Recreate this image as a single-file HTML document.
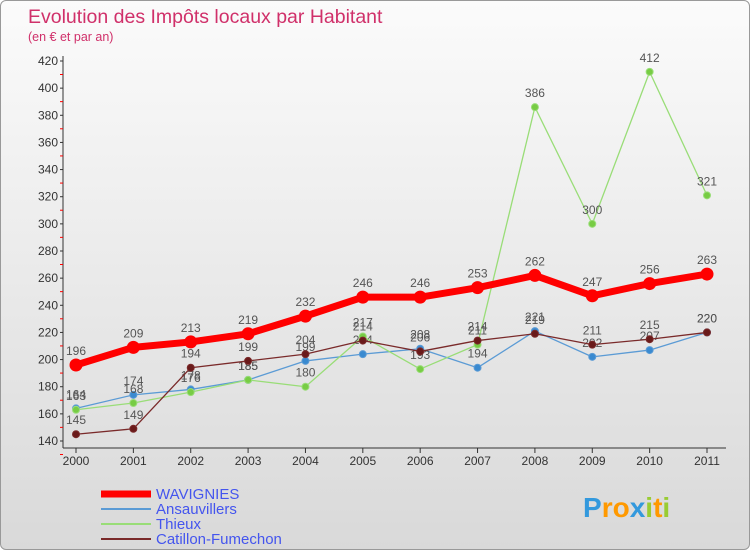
<!DOCTYPE html>
<html><head><meta charset="utf-8"><style>
body{margin:0;width:750px;height:550px;overflow:hidden;font-family:"Liberation Sans",sans-serif}
#wrap{position:absolute;left:0;top:0;width:748px;height:548px;border:1px solid #999;border-radius:6px;background:linear-gradient(#fbfbfb,#d9d9d9)}
</style></head><body>
<div id="wrap">
<svg id="c" width="750" height="550"></svg>
</div>
<script>
const years=["2000","2001","2002","2003","2004","2005","2006","2007","2008","2009","2010","2011"];
const yTicks=[140,160,180,200,220,240,260,280,300,320,340,360,380,400,420];
const wavignies=[196,209,213,219,232,246,246,253,262,247,256,263];
const ansauvillers=[164,174,178,185,199,204,208,194,221,202,207,220];
const thieux=[163,168,176,185,180,217,193,211,386,300,412,321];
const catillon=[145,149,194,199,204,214,206,214,219,211,215,220];
const svg=document.getElementById('c');const NS='http://www.w3.org/2000/svg';
function el(t,a,p){const e=document.createElementNS(NS,t);for(const k in a)e.setAttribute(k,a[k]);(p||svg).appendChild(e);return e;}
const X=i=>75+i*(706-75)/11, Y=v=>440-(v-140)*380/280;
let t=el('text',{x:27,y:22,fill:'#d0306a','font-size':19.5});t.textContent='Evolution des Impôts locaux par Habitant';

t=el('text',{x:27,y:40,fill:'#d0306a','font-size':12.5});t.textContent='(en € et par an)';

let ax=el('line',{x1:62,y1:55,x2:62,y2:447,stroke:'#333'});
ax=el('line',{x1:62,y1:447,x2:725,y2:447,stroke:'#333'});
yTicks.forEach(v=>{const y=Y(v);el('line',{x1:59,y1:y,x2:62,y2:y,stroke:'#333'});el('line',{x1:59,y1:y+13.5,x2:62,y2:y+13.5,stroke:'red'});
const tt=el('text',{x:57,y:y+4,'text-anchor':'end','font-size':12,fill:'#333'});tt.textContent=v;
});
years.forEach((yr,i)=>{el('line',{x1:X(i),y1:447,x2:X(i),y2:452,stroke:'#333'});
const tt=el('text',{x:X(i),y:464,'text-anchor':'middle','font-size':12,fill:'#333'});tt.textContent=yr;
});
function series(d,col,dot,w,r,name){const g=el('g',{});
el('polyline',{points:d.map((v,i)=>X(i)+','+Y(v)).join(' '),fill:'none',stroke:col,'stroke-width':w,'stroke-linejoin':'round'},g);
d.forEach((v,i)=>{const c=el('circle',{cx:X(i),cy:Y(v),r:r,fill:dot,stroke:col,'stroke-width':1},g);
const tt=el('text',{x:X(i),y:Y(v)-10,'text-anchor':'middle','font-size':12,fill:'#555'},g);tt.textContent=v;});}
series(ansauvillers,'#5b9bd5','#3a8ad0',1.3,3.5,'ansauvillers-series');
series(thieux,'#99dd77','#77cc44',1.3,3.5,'thieux-series');
series(catillon,'#7a2a2a','#6a1a1a',1.3,3.5,'catillon-series');
series(wavignies,'#ff0000','#ff0000',7,6,'wavignies-series');
const leg=[['WAVIGNIES','#ff0000',7],['Ansauvillers','#5b9bd5',2],['Thieux','#99dd77',2],['Catillon-Fumechon','#7a2a2a',2]];
leg.forEach((l,i)=>{const y=493+i*15;const g=el('g',{});
el('line',{x1:100,y1:y,x2:150,y2:y,stroke:l[1],'stroke-width':l[2]},g);
const tt=el('text',{x:155,y:y+5,'font-size':15,fill:'#4455ee'},g);tt.textContent=l[0];});
const lg=el('text',{x:582,y:516,'font-size':28,'font-weight':'bold'});
[['P','#3399dd'],['r','#ff9900'],['o','#ff9900'],['x','#3399dd'],['i','#99cc33'],['t','#ff9900'],['i','#99cc33']].forEach(c=>{const s=el('tspan',{fill:c[1]},lg);s.textContent=c[0];});
</script>
</body></html>
